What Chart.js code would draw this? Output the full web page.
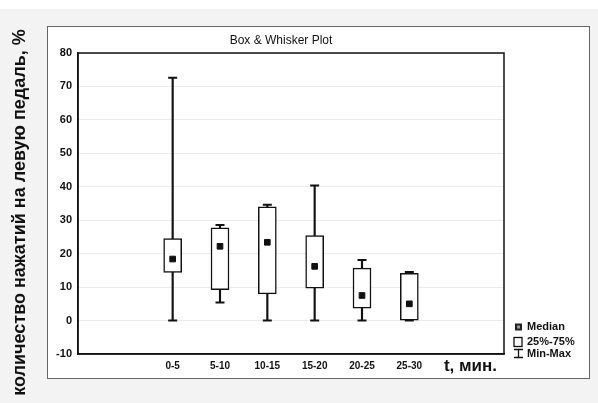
<!DOCTYPE html>
<html>
<head>
<meta charset="utf-8">
<script src="https://cdn.jsdelivr.net/npm/chart.js@4.4.1/dist/chart.umd.min.js"></script>
<style>
  body { margin: 0; background: #f3f3f3; }
  #wrap { width: 598px; height: 403px; position: relative; }
</style>
</head>
<body>
<div id="wrap"><canvas id="myChart"></canvas></div>
<script>
// time intervals, minutes
const categories = ["0-5", "5-10", "10-15", "15-20", "20-25", "25-30"];
// box plot stats
const mins = [0, 5.4, 0, 0, 0, 0];
const q1s = [14.4, 9.2, 8.0, 9.7, 3.7, 0];
const medians = [18.4, 22.2, 23.4, 16.2, 7.5, 5.0];
const q3s = [24.5, 27.7, 34.0, 25.4, 15.7, 14.1];
const maxs = [72.6, 28.6, 34.6, 40.4, 18.1, 14.5];
const yTicks = [-10, 0, 10, 20, 30, 40, 50, 60, 70, 80];

const titleText = "Box & Whisker Plot";
const yTitle = "количество нажатий на левую педаль, %";
const xTitle = "t, мин.";
const legendItems = ["Median", "25%-75%", "Min-Max"];

const FONT = "'Liberation Sans', Arial, sans-serif";
Chart.defaults.font.family = FONT;

// two empty slots before the data, two after (axis runs past the last box)
const labels = ["", ""].concat(categories, ["", ""]);
function pad(arr) {
  return [null, null].concat(arr, [null, null]);
}

const boxes = q1s.map((v, i) => [v, q3s[i]]);
const whiskers = mins.map((v, i) => [v, maxs[i]]);

// frame, titles and legend drawn around the chart area
const decor = {
  id: "decor",
  beforeDraw(chart) {
    const ctx = chart.ctx;
    const ca = chart.chartArea;
    ctx.save();
    ctx.fillStyle = "#ffffff";
    ctx.fillRect(0, 0, chart.width, 9);
    ctx.fillStyle = "#f3f3f3";
    ctx.fillRect(0, 9, chart.width, chart.height - 9);
    const fx = ca.left - 31, fy = ca.top - 27;
    const fw = ca.right + 85 - fx, fh = ca.bottom + 24 - fy;
    ctx.fillStyle = "#ffffff";
    ctx.fillRect(fx, fy, fw, fh);
    ctx.strokeStyle = "#666";
    ctx.lineWidth = 1;
    ctx.strokeRect(fx + 0.5, fy + 0.5, fw, fh);
    ctx.restore();
  },
  afterDraw(chart) {
    const ctx = chart.ctx;
    const ca = chart.chartArea;
    ctx.save();
    // plot border
    ctx.strokeStyle = "#111";
    ctx.lineWidth = 1.5;
    ctx.strokeRect(ca.left, ca.top, ca.right - ca.left, ca.bottom - ca.top);

    ctx.fillStyle = "#111";
    // title
    ctx.font = "12px " + FONT;
    ctx.textAlign = "center";
    ctx.textBaseline = "middle";
    ctx.fillText(titleText, (ca.left + ca.right) / 2 - 10, ca.top - 12);

    // x title next to the last tick label
    ctx.font = "bold 17px " + FONT;
    ctx.textAlign = "right";
    ctx.fillText(xTitle, ca.right - 7, ca.bottom + 12);

    // y title, rotated
    ctx.save();
    ctx.translate(20, (ca.top + ca.bottom) / 2 + 9);
    ctx.rotate(-Math.PI / 2);
    ctx.font = "bold 18px " + FONT;
    ctx.textAlign = "center";
    ctx.fillText(yTitle, 0, 0);
    ctx.restore();

    // legend
    const lx = ca.right + 11;
    const ys = [ca.bottom - 27, ca.bottom - 12, ca.bottom];
    ctx.font = "bold 11px " + FONT;
    ctx.textAlign = "left";
    legendItems.forEach((t, i) => ctx.fillText(t, lx + 12, ys[i]));
    ctx.fillStyle = "#222";
    ctx.fillRect(lx, ys[0] - 3.5, 7, 7);
    ctx.fillStyle = "#999";
    ctx.fillRect(lx + 2, ys[0] - 1.5, 3, 3);
    ctx.strokeStyle = "#111";
    ctx.lineWidth = 1.3;
    ctx.strokeRect(lx - 1, ys[1] - 4.5, 8, 9);
    ctx.beginPath();
    ctx.moveTo(lx - 1, ys[2] - 4.5); ctx.lineTo(lx + 8, ys[2] - 4.5);
    ctx.moveTo(lx + 3.5, ys[2] - 4.5); ctx.lineTo(lx + 3.5, ys[2] + 3.5);
    ctx.moveTo(lx - 1, ys[2] + 3.5); ctx.lineTo(lx + 8, ys[2] + 3.5);
    ctx.stroke();
    ctx.restore();
  }
};

const ctx = document.getElementById("myChart");
new Chart(ctx, {
  data: {
    labels: labels,
    datasets: [
      {
        type: "line",
        label: "Median",
        data: pad(medians),
        showLine: false,
        pointStyle: "rect",
        pointRadius: 4,
        backgroundColor: "#111",
        borderColor: "#111",
        borderWidth: 1,
        order: 0,
      },
      {
        type: "line",
        label: "Max",
        data: pad(maxs),
        showLine: false,
        pointStyle: "line",
        pointRadius: 4.5,
        borderColor: "#111",
        borderWidth: 2,
        order: 1,
      },
      {
        type: "line",
        label: "Min",
        data: pad(mins),
        showLine: false,
        pointStyle: "line",
        pointRadius: 4.5,
        borderColor: "#111",
        borderWidth: 2,
        order: 1,
      },
      {
        type: "bar",
        label: "25%-75%",
        data: pad(boxes),
        backgroundColor: "#ffffff",
        borderColor: "#111",
        borderWidth: 1.5,
        borderSkipped: false,
        barThickness: 18,
        grouped: false,
        order: 2,
      },
      {
        type: "bar",
        label: "Min-Max",
        data: pad(whiskers),
        backgroundColor: "#111",
        borderWidth: 0,
        barThickness: 1.5,
        grouped: false,
        order: 3,
      },
    ],
  },
  options: {
    responsive: true,
    maintainAspectRatio: false,
    animation: false,
    layout: { padding: { left: 0, right: 94, top: 53, bottom: 19 } },
    plugins: {
      legend: { display: false },
      tooltip: { enabled: false },
    },
    scales: {
      x: {
        type: "category",
        offset: false,
        grid: { display: false, drawTicks: false },
        border: { display: true, color: "#111", width: 1.5 },
        ticks: {
          autoSkip: false,
          maxRotation: 0,
          padding: 6,
          color: "#111",
          font: { size: 10, weight: "bold" },
        },
        afterFit(scale) { scale.height = 30; },
      },
      y: {
        min: -10,
        max: 80,
        afterBuildTicks(scale) {
          scale.ticks = yTicks.map(v => ({ value: v }));
        },
        grid: { color: "rgba(0,0,0,0.08)", drawTicks: false },
        border: { display: true, color: "#111", width: 1.5 },
        ticks: {
          padding: 6,
          color: "#111",
          font: { size: 11, weight: "bold" },
        },
        afterFit(scale) { scale.width = 78; },
      },
    },
  },
  plugins: [decor],
});
</script>
</body>
</html>
